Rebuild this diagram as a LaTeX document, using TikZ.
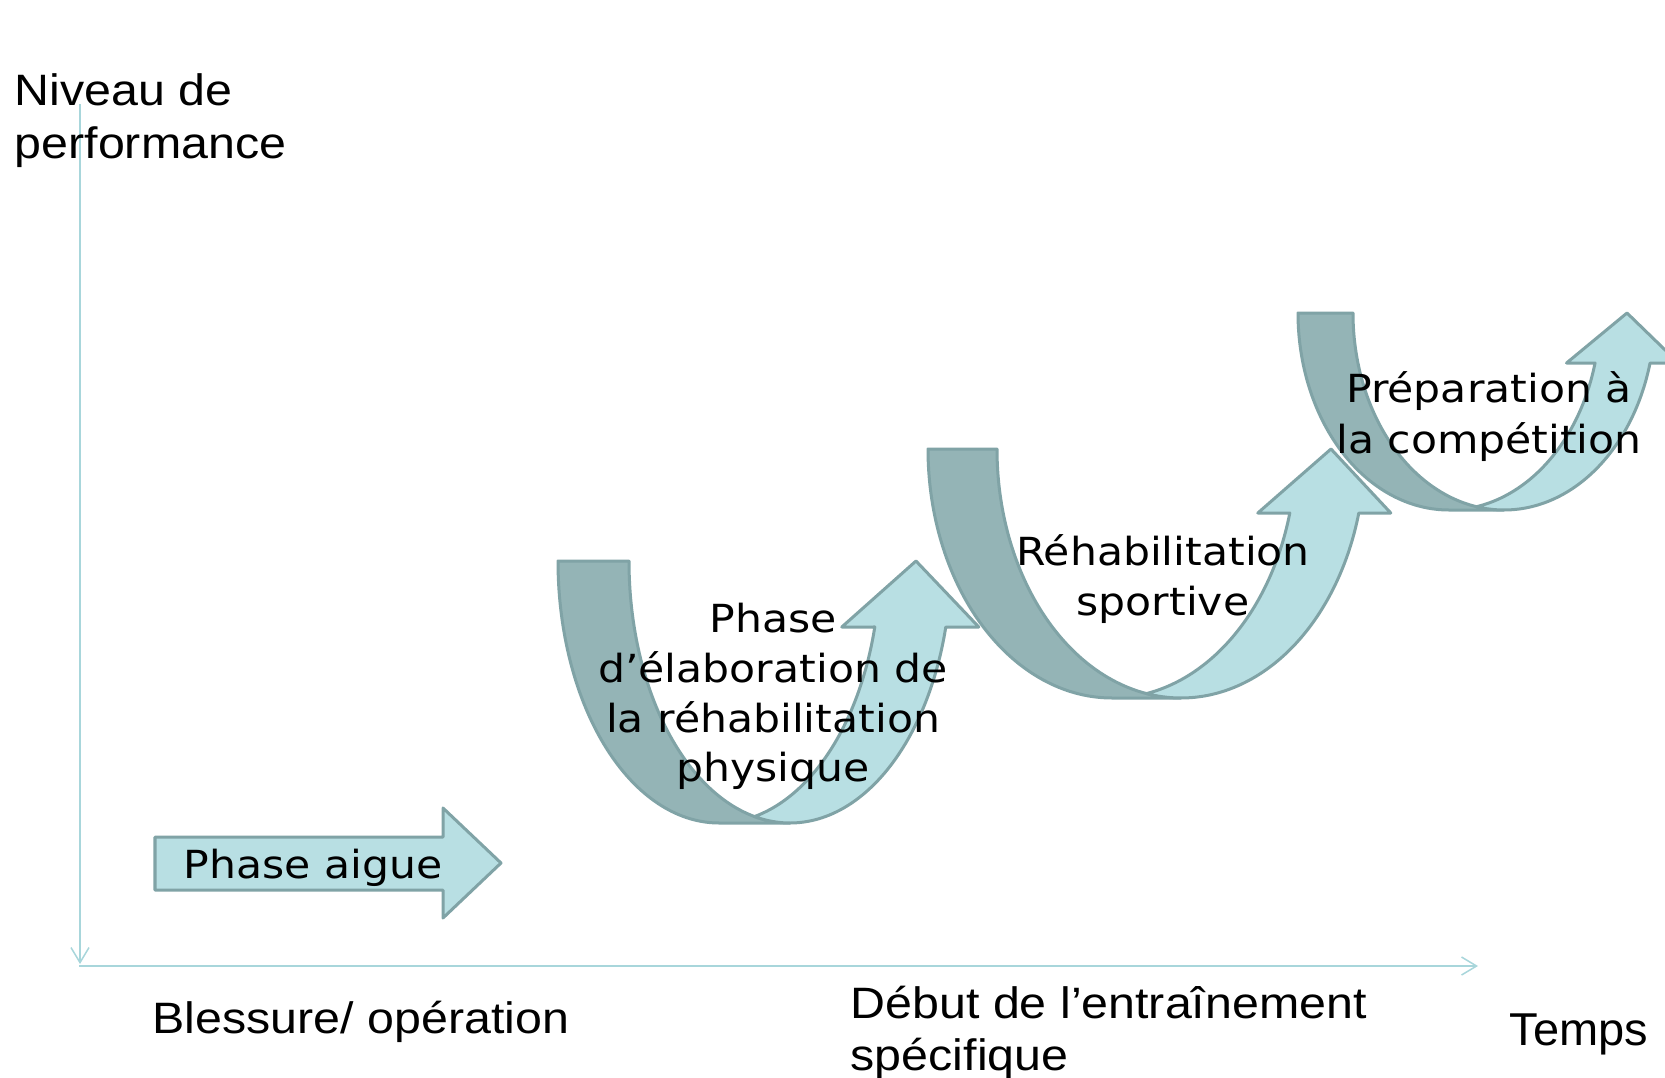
\documentclass[tikz,border=0pt]{standalone}
\usepackage{fontspec}
\usepackage{graphicx}
\usetikzlibrary{arrows.meta}

\newfontfamily\axisfont{Liberation Sans}
\newfontfamily\bandfont{DejaVu Sans}

\definecolor{axisline}{RGB}{168,214,219}
\definecolor{frontfill}{RGB}{184,223,227}
\definecolor{backfill}{RGB}{148,180,182}
\definecolor{bandedge}{RGB}{128,163,166}

% Curved up-arrow: a tail and a rising shaft cut from two equal ellipses
% (centres on the top line, shifted by the band width).
% #1 left, #2 top, #3 bottom, #4 ellipse x-radius, #5 band width,
% #6 head width, #7 head height, #8 x of the head tip
\newcommand\curvedband[8]{%
  \pgfmathsetmacro\cbL{#1}%
  \pgfmathsetmacro\cbT{#2}%
  \pgfmathsetmacro\cbH{#3-#2}%
  \pgfmathsetmacro\cbR{#4}%
  \pgfmathsetmacro\cbW{#5}%
  \pgfmathsetmacro\cbA{asin(#7/\cbH)}%
  \pgfmathsetmacro\cbIa{acos(#5/(2*#4))}%
  \pgfmathsetmacro\cbIb{180-\cbIa}%
  \pgfmathsetmacro\cbYh{#2+#7}%
  \pgfmathsetmacro\cbXi{#1+#4+#4*cos(\cbA)}%
  \pgfmathsetmacro\cbXo{\cbXi+#5}%
  \pgfmathsetmacro\cbD{(#6-#5)/2}%
  \filldraw[bandback] (\cbL,\cbT)
    -- plot[domain=180:90,samples=70] ({\cbL+\cbR+\cbR*cos(\x)},{\cbT+\cbH*sin(\x)})
    -- ({\cbL+\cbR+\cbW},#3)
    -- plot[domain=90:180,samples=70] ({\cbL+\cbW+\cbR+\cbR*cos(\x)},{\cbT+\cbH*sin(\x)})
    -- cycle;
  \filldraw[bandfront] (#8,\cbT) -- ({\cbXo+\cbD},\cbYh) -- (\cbXo,\cbYh)
    -- plot[domain=\cbA:\cbIb,samples=70] ({\cbL+\cbW+\cbR+\cbR*cos(\x)},{\cbT+\cbH*sin(\x)})
    -- plot[domain=\cbIa:\cbA,samples=70] ({\cbL+\cbR+\cbR*cos(\x)},{\cbT+\cbH*sin(\x)})
    -- ({\cbXi-\cbD},\cbYh) -- cycle;
}

\tikzset{
  axis/.style={draw=axisline, line width=0.015cm},
  axistip/.style={-{Straight Barb[length=0.15cm,width=0.18cm]}},
  bandback/.style={fill=backfill, draw=bandedge, line width=0.03cm, line join=round},
  bandfront/.style={fill=frontfill, draw=bandedge, line width=0.03cm, line join=round},
  axislabel/.style={anchor=base west, inner sep=0pt, text=black,
    font=\axisfont\fontsize{12.5}{15}\selectfont},
  bandlabel/.style={anchor=base, inner sep=0pt, text=black,
    font=\bandfont\fontsize{11}{14}\selectfont},
}

\begin{document}
\begin{tikzpicture}[x=0.01cm, y=-0.01cm]
  \fill[white] (0,0) rectangle (1665,1078);
  \useasboundingbox (0,0) rectangle (1665,1078);
  \clip (0,0) rectangle (1665,1078);

  % axes
  \coordinate (ytop) at (80,104);
  \coordinate (ybot) at (80,964);
  \coordinate (origin) at (79,966);
  \coordinate (xend) at (1478,966);
  \draw[axis, axistip] (ytop) -- (ybot);
  \draw[axis, axistip] (origin) -- (xend);

  % phases, the later ones lie underneath
  \curvedband{1298}{313}{510}{151}{55}{112}{50}{1627}
  \curvedband{928}{449}{698}{184}{69}{133}{64}{1331}
  \curvedband{558}{561}{823}{161}{71}{137}{66}{916}

  % acute phase block arrow
  \filldraw[bandfront] (155,837) -- (443,837) -- (443,808) -- (501,863)
    -- (443,918) -- (443,890) -- (155,890) -- cycle;

  % labels of the phases
  \node[bandlabel] (acute) at (313,878) {\scalebox{1.1}[1]{Phase aigue}};

  \node[bandlabel] (p1a) at (773,632) {\scalebox{1.1}[1]{Phase}};
  \node[bandlabel] (p1b) at (773,682) {\scalebox{1.1}[1]{d’élaboration de}};
  \node[bandlabel] (p1c) at (773,732) {\scalebox{1.1}[1]{la réhabilitation}};
  \node[bandlabel] (p1d) at (773,781) {\scalebox{1.1}[1]{physique}};

  \node[bandlabel] (p2a) at (1163,565) {\scalebox{1.1}[1]{Réhabilitation}};
  \node[bandlabel] (p2b) at (1163,615) {\scalebox{1.1}[1]{sportive}};

  \node[bandlabel] (p3a) at (1489,402) {\scalebox{1.1}[1]{Préparation à}};
  \node[bandlabel] (p3b) at (1489,453) {\scalebox{1.1}[1]{la compétition}};

  % axis labels
  \node[axislabel] (ylab1) at (14,105) {\scalebox{1.1}[1]{Niveau de}};
  \node[axislabel] (ylab2) at (14,158) {\scalebox{1.1}[1]{performance}};
  \node[axislabel] (injury) at (152,1033) {\scalebox{1.1}[1]{Blessure/ opération}};
  \node[axislabel] (start1) at (850,1018) {\scalebox{1.1}[1]{Début de l’entraînement}};
  \node[axislabel] (start2) at (850,1070) {\scalebox{1.1}[1]{spécifique}};
  \node[axislabel, font=\axisfont\fontsize{13.1}{15}\selectfont]
    (time) at (1509,1045) {\scalebox{1.02}[1]{Temps}};
\end{tikzpicture}
\end{document}
